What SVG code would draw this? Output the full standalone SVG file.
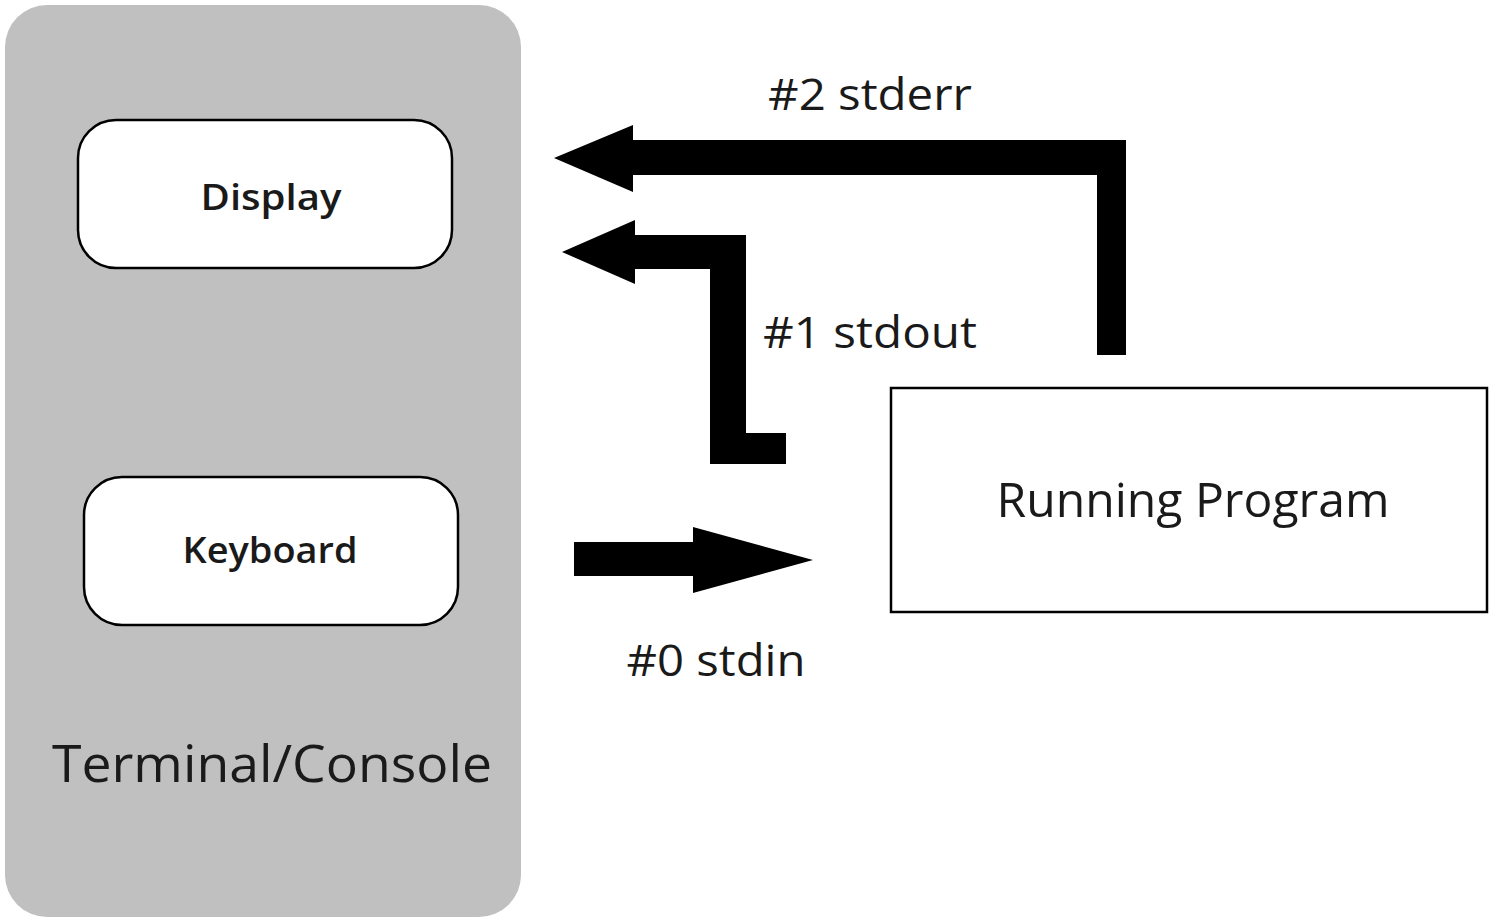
<svg xmlns="http://www.w3.org/2000/svg" width="1494" height="918" viewBox="0 0 1494 918">
<style>
.lbl{font-family:"Open Sans","Liberation Sans",sans-serif;fill:#1a1a1a}
.box{fill:#fff;stroke:#000;stroke-width:2.5}
.arrow{fill:#000}
</style>
<rect width="1494" height="918" fill="#fff"/>
<g id="terminal">
<rect x="5" y="5" width="516" height="912" rx="42" fill="#c0c0c0"/>
<text class="lbl" x="272" y="782" font-size="52" text-anchor="middle" textLength="440" lengthAdjust="spacingAndGlyphs">Terminal/Console</text>
</g>
<g id="display">
<rect class="box" x="78" y="120" width="374" height="148" rx="38"/>
<text class="lbl" x="271" y="210" font-size="36" font-weight="600" text-anchor="middle" textLength="141" lengthAdjust="spacingAndGlyphs">Display</text>
</g>
<g id="keyboard">
<rect class="box" x="84" y="477" width="374" height="148" rx="38"/>
<text class="lbl" x="270" y="563" font-size="36" font-weight="600" text-anchor="middle" textLength="175" lengthAdjust="spacingAndGlyphs">Keyboard</text>
</g>
<g id="program">
<rect x="891" y="388" width="596" height="224" fill="#fff" stroke="#000" stroke-width="2.5"/>
<text class="lbl" x="1193" y="517" font-size="48" text-anchor="middle" textLength="393" lengthAdjust="spacingAndGlyphs">Running Program</text>
</g>
<g id="connectors">
<polygon class="arrow" points="554,158 633,125 633,140 1126,140 1126,355 1097,355 1097,175 633,175 633,192"/>
<polygon class="arrow" points="562,252 635,220 635,235 746,235 746,433 786,433 786,464 710,464 710,269 635,269 635,284"/>
<polygon class="arrow" points="574,542 693,542 693,527 813,560 693,593 693,576 574,576"/>
<text class="lbl" x="870" y="110" font-size="44" text-anchor="middle" textLength="204" lengthAdjust="spacingAndGlyphs">#2 stderr</text>
<text class="lbl" x="870" y="348" font-size="44" text-anchor="middle" textLength="214" lengthAdjust="spacingAndGlyphs">#1 stdout</text>
<text class="lbl" x="716" y="676" font-size="44" text-anchor="middle" textLength="179" lengthAdjust="spacingAndGlyphs">#0 stdin</text>
</g>
</svg>
